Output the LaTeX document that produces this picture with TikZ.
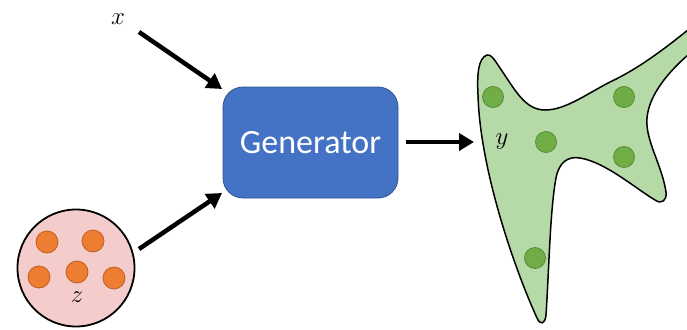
\documentclass[tikz,border=0pt]{standalone}
\usepackage{fontspec}
\newfontfamily\boxfont{Carlito}
\usetikzlibrary{arrows.meta}
\definecolor{genblue}{RGB}{68,114,196}
\definecolor{genedge}{RGB}{47,82,143}
\definecolor{pinkfill}{RGB}{244,204,204}
\definecolor{dotorange}{RGB}{237,125,49}
\definecolor{dotorangeedge}{RGB}{190,95,35}
\definecolor{blobgreen}{RGB}{182,218,167}
\definecolor{dotgreen}{RGB}{112,173,71}
\definecolor{dotgreenedge}{RGB}{84,140,52}
\tikzset{
  flow/.style={line width=4.5pt,-{Triangle[length=15pt,width=17pt]}},
  odot/.style={circle,minimum size=22pt,inner sep=0pt,fill=dotorange,draw=dotorangeedge,line width=0.8pt},
  gdot/.style={circle,minimum size=21pt,inner sep=0pt,fill=dotgreen,draw=dotgreenedge,line width=0.8pt},
  mathlabel/.style={inner sep=0pt,font=\fontsize{24}{24}\selectfont},
}
\begin{document}
\begin{tikzpicture}[x=1pt,y=-1pt]
\useasboundingbox (0,0) rectangle (687,329);
\clip (0,0) rectangle (687,329);

% generator block
\node[draw=genedge,line width=0.8pt,fill=genblue,rounded corners=20pt,
      minimum width=175pt,minimum height=111pt,inner sep=0pt,
      text=white,font=\boxfont\fontsize{34}{34}\selectfont]
  (gen) at (310.5,142.5) {Generator};

% latent distribution z
\node[circle,draw=black,line width=1.8pt,fill=pinkfill,minimum size=117pt,inner sep=0pt]
  (zset) at (76,268) {};
\node[odot] (o1) at (47,242) {};
\node[odot] (o2) at (93,241) {};
\node[odot] (o3) at (39,277) {};
\node[odot] (o4) at (77,272) {};
\node[odot] (o5) at (114,278) {};
\node[mathlabel] (zlab) at (77,297) {$z$};

% condition x
\node[mathlabel] (xlab) at (118,19) {$x$};

% output distribution y: a three-armed blob running off the right edge
\filldraw[fill=blobgreen,draw=black,line width=1.5pt]
  (487,55)
  .. controls (478,58) and (477,75) .. (478,95)
  .. controls (480,170) and (515,270) .. (537,318)
  .. controls (540,325) and (545,325) .. (546,315)
  .. controls (549,270) and (550,210) .. (556,178)
  .. controls (559,162) and (568,156) .. (580,158)
  .. controls (605,162) and (635,188) .. (655,200)
  .. controls (662,205) and (667,200) .. (666,192)
  .. controls (662,165) and (645,140) .. (647,118)
  .. controls (649,95) and (668,70) .. (700,45)
  -- (700,20)
  .. controls (670,45) and (640,68) .. (610,82)
  .. controls (585,95) and (565,110) .. (545,110)
  .. controls (525,110) and (515,90) .. (500,68)
  .. controls (494,59) and (491,54) .. (487,55) -- cycle;
\node[gdot] (g1) at (493,97) {};
\node[gdot] (g2) at (624,97) {};
\node[gdot] (g3) at (546,142) {};
\node[gdot] (g4) at (624,157) {};
\node[gdot] (g5) at (535,258) {};
\node[mathlabel] (ylab) at (502,142) {$y$};

% connectors
\coordinate (xstart) at (139,32);
\coordinate (xend) at (222,89);
\coordinate (zstart) at (139,249);
\coordinate (zend) at (222,193);
\coordinate (ystart) at (406,142);
\coordinate (yend) at (474,142);
\draw[flow] (xstart) -- (xend);
\draw[flow] (zstart) -- (zend);
\draw[flow] (ystart) -- (yend);
\end{tikzpicture}
\end{document}
